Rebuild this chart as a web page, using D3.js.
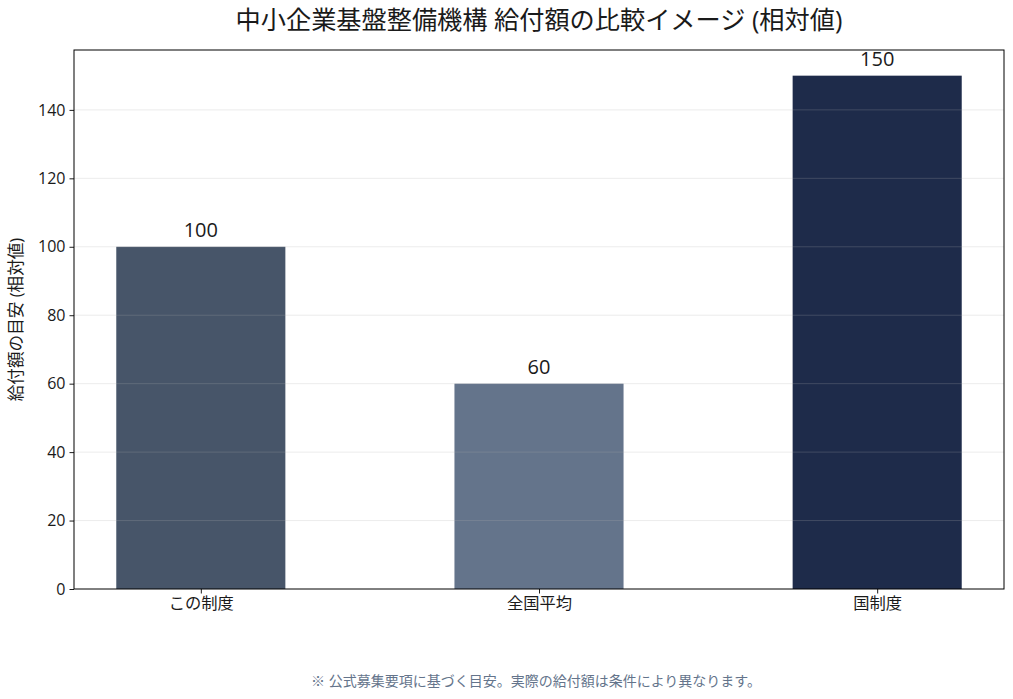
<!DOCTYPE html>
<html><head><meta charset="utf-8">
<script src="https://cdn.jsdelivr.net/npm/d3@7"></script>
<style>
body{margin:0;background:#fff;}
text{font-family:"Open Sans","Noto Sans CJK JP",sans-serif;}
</style></head>
<body>
<svg id="chart" width="1013" height="699"></svg>
<script>
const categories = ["この制度", "全国平均", "国制度"];
const values = [100, 60, 150];
const barColors = ["#475569", "#64748b", "#1e2b4a"];
const yTicks = [0, 20, 40, 60, 80, 100, 120, 140];
const titleText = "中小企業基盤整備機構 給付額の比較イメージ (相対値)";
const yLabelText = "給付額の目安 (相対値)";
const footText = "※ 公式募集要項に基づく目安。実際の給付額は条件により異なります。";

const svg = d3.select("#chart");
const m = {left:74, right:1004, top:50, bottom:589};

const x = d3.scaleLinear().domain([-0.375, 2.375]).range([m.left, m.right]);
const y = d3.scaleLinear().domain([0, 157.5]).range([m.bottom, m.top]);
const bw = 0.5;

// bars
svg.append("g").selectAll("rect").data(values).join("rect")
  .attr("x", (d,i)=>x(i-bw/2))
  .attr("width", (d,i)=>x(i+bw/2)-x(i-bw/2))
  .attr("y", d=>y(d))
  .attr("height", d=>y(0)-y(d))
  .attr("fill", (d,i)=>barColors[i]);

// grid (over bars)
svg.append("g").selectAll("line").data(yTicks.filter(t=>t>0)).join("line")
  .attr("x1", m.left).attr("x2", m.right)
  .attr("y1", d=>y(d)).attr("y2", d=>y(d))
  .attr("stroke", "#b0b0b0").attr("stroke-opacity", 0.3).attr("stroke-width", 0.8);

// value labels
svg.append("g").selectAll("text").data(values).join("text")
  .attr("x", (d,i)=>x(i))
  .attr("y", d=>y(d)-9.5)
  .attr("text-anchor", "middle")
  .attr("font-size", "20px")
  .attr("fill", "#1a1a1a")
  .text(d=>d);

// axes
const yAxis = d3.axisLeft(y).tickValues(yTicks).tickSize(4.5).tickPadding(4);
const gy = svg.append("g").attr("transform", `translate(${m.left},0)`).call(yAxis);
gy.select(".domain").remove();
gy.selectAll("text").attr("font-size", "16px").attr("fill", "#1a1a1a")
  .attr("font-family", "'Open Sans', sans-serif");
gy.selectAll("line").attr("stroke", "#000").attr("stroke-width", 0.9);

const xAxis = d3.axisBottom(x).tickValues([0,1,2]).tickFormat(i=>categories[i]).tickSize(4.5).tickPadding(4);
const gx = svg.append("g").attr("transform", `translate(0,${m.bottom})`).call(xAxis);
gx.select(".domain").remove();
gx.selectAll("text").attr("font-size", "16.3px").attr("fill", "#1a1a1a")
  .attr("font-family", "'Noto Sans CJK JP', sans-serif");
gx.selectAll("line").attr("stroke", "#000").attr("stroke-width", 0.9);

// frame
svg.append("rect").attr("x", m.left).attr("y", m.top)
  .attr("width", m.right-m.left).attr("height", m.bottom-m.top)
  .attr("fill", "none").attr("stroke", "#000").attr("stroke-width", 1);

// title
svg.append("text").attr("x", (m.left+m.right)/2).attr("y", 29)
  .attr("text-anchor", "middle").attr("font-size", "25.2px")
  .attr("font-family", "'Noto Sans CJK JP', sans-serif").attr("fill", "#1a1a1a")
  .text(titleText);

// y label
svg.append("text").attr("transform", `translate(22,${(m.top+m.bottom)/2}) rotate(-90)`)
  .attr("text-anchor", "middle").attr("font-size", "16.6px")
  .attr("font-family", "'Noto Sans CJK JP', sans-serif").attr("fill", "#1a1a1a")
  .text(yLabelText);

// footnote
svg.append("text").attr("x", 536).attr("y", 686)
  .attr("text-anchor", "middle").attr("font-size", "14px")
  .attr("font-family", "'Noto Sans CJK JP', sans-serif").attr("fill", "#64748b")
  .text(footText);
</script>
</body></html>
